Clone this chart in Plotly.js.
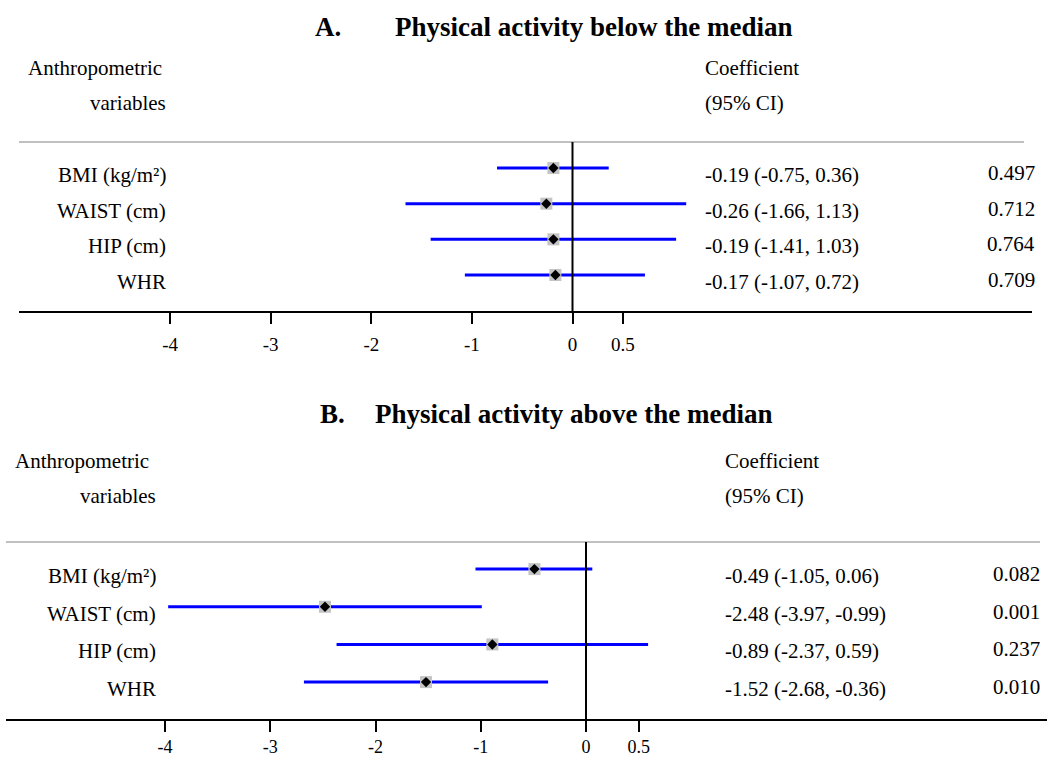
<!DOCTYPE html>
<html>
<head>
<meta charset="utf-8">
<script src="https://cdn.plot.ly/plotly-3.0.1.min.js"></script>
<style>html,body{margin:0;padding:0;background:#fff;}#chart{width:1047px;height:760px;}</style>
</head>
<body>
<div id="chart"></div>
<script>
// ---- data ----
const variables = ["BMI (kg/m²)", "WAIST (cm)", "HIP (cm)", "WHR"];
const rowIndex = [0, 1, 2, 3];

const titleA = "Physical activity below the median";
const coefA = [-0.19, -0.26, -0.19, -0.17];
const lowA  = [-0.75, -1.66, -1.41, -1.07];
const highA = [0.36, 1.13, 1.03, 0.72];
const pA    = ["0.497", "0.712", "0.764", "0.709"];

const titleB = "Physical activity above the median";
const coefB = [-0.49, -2.48, -0.89, -1.52];
const lowB  = [-1.05, -3.97, -2.37, -2.68];
const highB = [0.06, -0.99, 0.59, -0.36];
const pB    = ["0.082", "0.001", "0.237", "0.010"];

const tickVals = [-4, -3, -2, -1, 0, 0.5];
const tickText = ["-4", "-3", "-2", "-1", "0", "0.5"];

// ---- layout helpers ----
const W = 1047, H = 760;
const px = x => x / W;
const py = y => 1 - y / H;
const FONT = "Liberation Serif, Times New Roman, serif";
const BODY = 21, TITLE = 27;

function panelTraces(coef, low, high, xa, ya) {
  return [
    {
      type: "scatter", mode: "markers", x: coef, y: rowIndex, xaxis: xa, yaxis: ya,
      marker: {size: 1, color: "#0000ff"},
      error_x: {type: "data", symmetric: false,
        array: high.map((h, i) => h - coef[i]),
        arrayminus: low.map((l, i) => coef[i] - l),
        color: "#0000ff", thickness: 3, width: 0},
      hoverinfo: "skip"
    },
    {
      type: "scatter", mode: "markers", x: coef, y: rowIndex, xaxis: xa, yaxis: ya,
      marker: {symbol: "square", size: 12, color: "#c4c4c4"}, hoverinfo: "skip"
    },
    {
      type: "scatter", mode: "markers", x: coef, y: rowIndex, xaxis: xa, yaxis: ya,
      marker: {symbol: "diamond", size: 8, color: "#000000"}, hoverinfo: "x"
    }
  ];
}

const data = [].concat(
  panelTraces(coefA, lowA, highA, "x", "y"),
  panelTraces(coefB, lowB, highB, "x2", "y2")
);

const xCommon = {
  tickmode: "array", tickvals: tickVals, ticktext: tickText,
  ticks: "outside", ticklen: 11, tickwidth: 2, tickcolor: "#000",
  showline: true, linecolor: "#000", linewidth: 1.5,
  showgrid: false, zeroline: false,
  tickfont: {family: FONT, size: 19, color: "#000"}
};
const yCommon = {visible: false, showgrid: false, zeroline: false};

const annotations = [];
function txt(text, x, y, xanchor, size, opts) {
  const a = Object.assign({
    text: text, x: x, y: y, xref: "paper", yref: "paper",
    xanchor: xanchor, yanchor: "middle", showarrow: false,
    font: {family: FONT, size: size, color: "#000"}
  }, opts || {});
  annotations.push(a);
}

function panelText(cfg) {
  const tf = {family: FONT, size: TITLE, color: "#000", weight: "bold"};
  txt(cfg.letter, px(cfg.letterX), py(cfg.titleY), "left", TITLE, {font: tf});
  txt(cfg.title, px(cfg.titleX), py(cfg.titleY), "left", TITLE, {font: tf});
  txt("Anthropometric", px(cfg.hdrLeft), py(cfg.hdr1Y), "left", BODY);
  txt("variables", px(cfg.labelRight), py(cfg.hdr2Y), "right", BODY);
  txt("Coefficient", px(cfg.coefX), py(cfg.hdr1Y), "left", BODY);
  txt("(95% CI)", px(cfg.coefX), py(cfg.hdr2Y), "left", BODY);
  variables.forEach((v, i) => {
    txt(v, px(cfg.labelRight), rowIndex[i], "right", BODY, {yref: cfg.yref, yshift: -7});
    const s = cfg.coef[i].toFixed(2) + " (" + cfg.low[i].toFixed(2) + ", " + cfg.high[i].toFixed(2) + ")";
    txt(s, px(cfg.coefX), rowIndex[i], "left", BODY, {yref: cfg.yref, yshift: -7});
    txt(cfg.p[i], px(cfg.pRight), rowIndex[i], "right", BODY, {yref: cfg.yref, yshift: -5});
  });
}

panelText({letter: "A.", letterX: 313, title: titleA, titleX: 393, titleY: 27,
  hdrLeft: 26, labelRight: 168, hdr1Y: 68, hdr2Y: 103, coefX: 703, pRight: 1037,
  yref: "y", coef: coefA, low: lowA, high: highA, p: pA});
panelText({letter: "B.", letterX: 318, title: titleB, titleX: 373, titleY: 414,
  hdrLeft: 13, labelRight: 158, hdr1Y: 461, hdr2Y: 496, coefX: 723, pRight: 1042,
  yref: "y2", coef: coefB, low: lowB, high: highB, p: pB});

const shapes = [
  {type: "line", xref: "paper", yref: "paper", x0: px(19), x1: px(1024), y0: py(142), y1: py(142),
   line: {color: "#c0c0c0", width: 2}},
  {type: "line", xref: "paper", yref: "paper", x0: px(6), x1: px(1040), y0: py(542), y1: py(542),
   line: {color: "#c0c0c0", width: 2}},
  {type: "line", xref: "x", yref: "y domain", x0: 0, x1: 0, y0: 0, y1: 1, layer: "above",
   line: {color: "#000", width: 2}},
  {type: "line", xref: "x2", yref: "y2 domain", x0: 0, x1: 0, y0: 0, y1: 1, layer: "above",
   line: {color: "#000", width: 2}}
];

const layout = {
  width: W, height: H,
  margin: {l: 0, r: 0, t: 0, b: 0, pad: 0},
  paper_bgcolor: "#fff", plot_bgcolor: "#fff",
  showlegend: false,
  font: {family: FONT, color: "#000"},
  xaxis: Object.assign({}, xCommon, {domain: [px(19), px(1032)], range: [(19 - 572.5) / 100.6, (1032 - 572.5) / 100.6], anchor: "y", ticklabelstandoff: 5}),
  yaxis: Object.assign({}, yCommon, {domain: [py(311), py(142)], range: [4.01, -0.73], anchor: "x"}),
  xaxis2: Object.assign({}, xCommon, {domain: [px(6), 1], range: [(6 - 586) / 105.25, (1047 - 586) / 105.25], anchor: "y2", ticklabelstandoff: 0, tickfont: {family: FONT, size: 18, color: "#000"}}),
  yaxis2: Object.assign({}, yCommon, {domain: [py(719), py(542)], range: [3.98, -0.72], anchor: "x2"}),
  annotations: annotations,
  shapes: shapes
};

Plotly.newPlot("chart", data, layout, {displayModeBar: false, staticPlot: true});
</script>
</body>
</html>
